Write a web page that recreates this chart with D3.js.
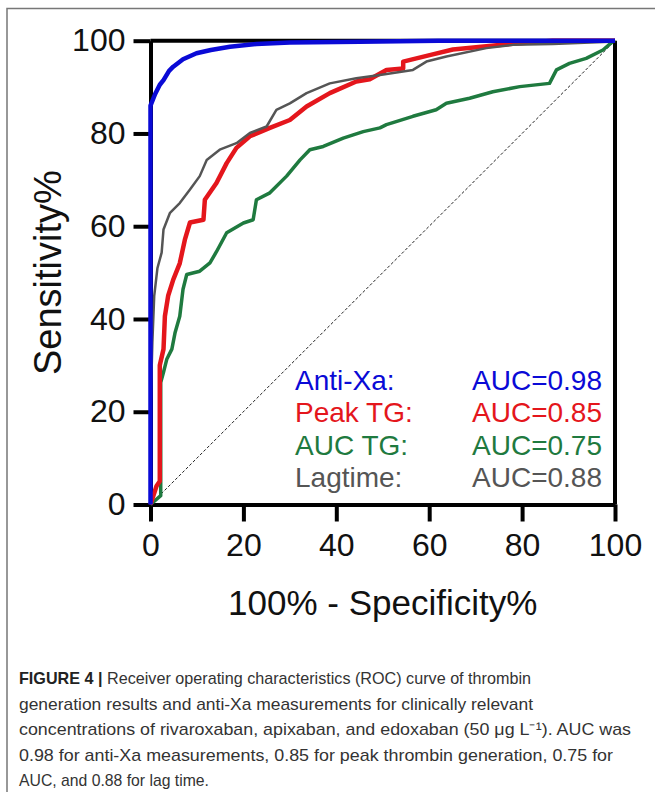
<!DOCTYPE html>
<html>
<head>
<meta charset="utf-8">
<script src="https://cdn.jsdelivr.net/npm/d3@7"></script>
<style>
  body { margin: 0; background: #fff; }
  svg { display: block; }
</style>
</head>
<body>
<div id="chart"></div>
<script>
// ROC points (x = 100% - specificity, y = sensitivity)
const antiXaX = [0, 0, 1, 2, 2.8, 4, 4.9, 7, 9.9, 13, 17.1, 22.8, 30, 45, 62, 100];
const antiXaY = [0, 86, 88.5, 90.5, 91.5, 93.5, 94.4, 96, 97.3, 98, 98.7, 99.3, 99.6, 99.8, 100, 100];

const peakX = [0, 1.3, 2, 2, 2.8, 3.1, 3.8, 4.9, 6.3, 7.4, 8.5, 11.4, 11.7, 14.2, 16.4, 18.5, 21.4, 25.7, 30, 33.6, 38.6, 44.3, 47.2, 50.8, 54.4, 54.4, 60.1, 65.1, 77.3, 86.6, 100];
const peakY = [0, 4, 5, 30, 33.5, 40.6, 45, 48.5, 52, 57.1, 60.8, 61.4, 65.7, 69.3, 73.6, 76.9, 79.4, 81.2, 82.9, 85.8, 88.7, 91.2, 91.7, 93.7, 94, 95.5, 96.9, 98.1, 99.3, 100, 100];

const aucX = [0, 2.2, 2.2, 2.8, 3.5, 4.6, 5.3, 6.3, 7, 7.8, 10.6, 12.8, 14.2, 16.4, 20, 22.1, 22.8, 25.7, 29.3, 32.2, 34.3, 37.2, 41.5, 45.8, 49.4, 50.8, 56.5, 61.5, 63.7, 68.7, 73.7, 79.5, 85.9, 87.4, 90.2, 93.8, 97.4, 99.5, 100];
const aucY = [0, 1.9, 26.3, 28.5, 31.3, 33.5, 37.1, 40.6, 46.4, 49.6, 50.3, 52.1, 54.5, 58.6, 60.7, 61.4, 65.7, 67.2, 70.8, 74.3, 76.5, 77.2, 79, 80.4, 81.2, 81.9, 83.7, 85.1, 86.5, 87.6, 89, 90.1, 90.8, 93.7, 95.1, 96.2, 98, 99.8, 100];

const lagX = [0, 0, 0.4, 0.8, 1.5, 2.4, 2.8, 4.2, 6.3, 8.5, 10.6, 12.1, 14.9, 18.5, 21.4, 25, 27.1, 30, 33.6, 38.6, 44.3, 49.4, 56.5, 59.4, 63.7, 72.3, 78, 86.6, 98.8, 100];
const lagY = [0, 20, 35, 45, 51, 54.3, 59.3, 62.9, 65, 67.9, 70.8, 74.3, 76.5, 77.9, 80.1, 81.5, 85.1, 86.5, 88.7, 90.8, 91.9, 92.6, 93.7, 95.5, 96.6, 98.4, 99.1, 99.3, 99.8, 100];

const seriesNames = ["Anti-Xa:", "Peak TG:", "AUC TG:", "Lagtime:"];
const aucLabels = ["AUC=0.98", "AUC=0.85", "AUC=0.75", "AUC=0.88"];
const ticks = [0, 20, 40, 60, 80, 100];

const captionLines = [
  ["FIGURE 4 |", " Receiver operating characteristics (ROC) curve of thrombin"],
  ["", "generation results and anti-Xa measurements for clinically relevant"],
  ["", "concentrations of rivaroxaban, apixaban, and edoxaban (50 \u03BCg L\u207B\u00B9). AUC was"],
  ["", "0.98 for anti-Xa measurements, 0.85 for peak thrombin generation, 0.75 for"],
  ["", "AUC, and 0.88 for lag time."]
];
// measured line lengths of the caption in the picture (px)
const captionWidths = [512, 514, 612, 594, 190];

/***** SETUP *****/
const width = 655, height = 792;
const margin = {top: 40.7, left: 150.5, right: 40, bottom: 287.5};
const plotW = width - margin.left - margin.right;
const plotH = height - margin.top - margin.bottom;

const svg = d3.select("#chart").append("svg")
    .attr("width", width)
    .attr("height", height);

// figure frame
svg.append("rect")
    .attr("x", 7).attr("y", 8.5)
    .attr("width", 700).attr("height", 800)
    .attr("fill", "none")
    .attr("stroke", "#777")
    .attr("stroke-width", 1.5);

const colors = ["#0a0ad6", "#e4161c", "#1f7a3f", "#555555"];
const widths = [4.5, 4.5, 3.5, 2.5];

const x = d3.scaleLinear().domain([0, 100]).range([0, plotW]);
const y = d3.scaleLinear().domain([0, 100]).range([plotH, 0]);

const plot = svg.append("g")
    .attr("transform", `translate(${margin.left},${margin.top})`);

/***** AXES *****/
const xAxis = plot.append("g")
    .attr("transform", `translate(0,${plotH})`)
    .call(d3.axisBottom(x).tickValues(ticks).tickSize(17).tickSizeOuter(0).tickPadding(12));

const yAxis = plot.append("g")
    .call(d3.axisLeft(y).tickValues(ticks).tickSize(17).tickSizeOuter(0).tickPadding(8));

[xAxis, yAxis].forEach(a => {
  a.selectAll("path, line").attr("stroke", "#000").attr("stroke-width", 4);
  a.selectAll("text")
      .attr("fill", "#111")
      .style("font-family", "Liberation Sans, Arial, sans-serif")
      .style("font-size", "32px");
});

// top and right frame
plot.append("line")
    .attr("x1", x(0)).attr("x2", x(100)).attr("y1", y(100)).attr("y2", y(100))
    .attr("stroke", "#000").attr("stroke-width", 4);
plot.append("line")
    .attr("x1", x(100)).attr("x2", x(100)).attr("y1", y(100)).attr("y2", y(0))
    .attr("stroke", "#000").attr("stroke-width", 4);

// reference diagonal
plot.append("line")
    .attr("x1", x(0)).attr("y1", y(0)).attr("x2", x(100)).attr("y2", y(100))
    .attr("stroke", "#222").attr("stroke-width", 1)
    .attr("stroke-dasharray", "3,2");

/***** CURVES *****/
const line = d3.line().x(d => x(d[0])).y(d => y(d[1]));
const series = [
  d3.zip(antiXaX, antiXaY),
  d3.zip(peakX, peakY),
  d3.zip(aucX, aucY),
  d3.zip(lagX, lagY)
];
// draw order: green, red, gray, blue
[2, 1, 3, 0].forEach(i => {
  plot.append("path")
      .datum(series[i])
      .attr("d", line)
      .attr("fill", "none")
      .attr("stroke", colors[i])
      .attr("stroke-width", widths[i])
      .attr("stroke-linejoin", "round");
});

/***** LEGEND *****/
const legend = svg.append("g")
    .style("font-family", "Liberation Sans, Arial, sans-serif")
    .style("font-size", "28px");

legend.selectAll(".name")
    .data(seriesNames)
    .join("text")
    .attr("class", "name")
    .attr("x", 295)
    .attr("y", (d, i) => 390 + i * 32.4)
    .attr("fill", (d, i) => colors[i])
    .text(d => d);

legend.selectAll(".auc")
    .data(aucLabels)
    .join("text")
    .attr("class", "auc")
    .attr("x", 602)
    .attr("y", (d, i) => 390 + i * 32.4)
    .attr("text-anchor", "end")
    .attr("fill", (d, i) => colors[i])
    .text(d => d);

/***** AXIS TITLES *****/
svg.append("text")
    .attr("x", margin.left + plotW / 2)
    .attr("y", 615)
    .attr("text-anchor", "middle")
    .style("font-family", "Liberation Sans, Arial, sans-serif")
    .style("font-size", "35px")
    .attr("fill", "#111")
    .text("100% - Specificity%");

svg.append("text")
    .attr("transform", `translate(61,${margin.top + plotH / 2}) rotate(-90)`)
    .attr("text-anchor", "middle")
    .style("font-family", "Liberation Sans, Arial, sans-serif")
    .style("font-size", "38px")
    .attr("fill", "#111")
    .text("Sensitivity%");

/***** CAPTION *****/
const caption = svg.append("g")
    .style("font-family", "Liberation Sans, Arial, sans-serif")
    .style("font-size", "17px")
    .attr("fill", "#333");

caption.selectAll("text")
    .data(captionLines)
    .join("text")
    .attr("x", 19)
    .attr("y", (d, i) => 684 + i * 25.6)
    .attr("textLength", (d, i) => captionWidths[i])
    .attr("lengthAdjust", "spacingAndGlyphs")
    .each(function(d) {
      const t = d3.select(this);
      if (d[0]) t.append("tspan").style("font-weight", "bold").attr("fill", "#222").text(d[0]);
      t.append("tspan").text(d[1]);
    });
</script>
</body>
</html>
